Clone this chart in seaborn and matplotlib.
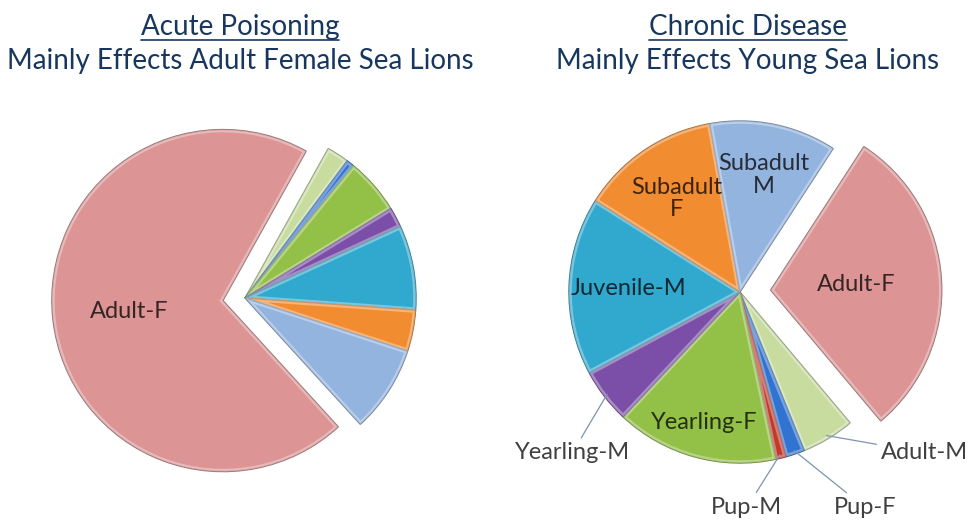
import matplotlib
matplotlib.use("Agg")
import matplotlib.pyplot as plt
import numpy as np
import seaborn as sns

sns.set_theme(style="white")
plt.rcParams['font.family'] = ['Lato', 'DejaVu Sans']

# slice order as in the original (clockwise)
categories = ["Adult-F", "Adult-M", "Pup-F", "Pup-M", "Yearling-F",
              "Yearling-M", "Juvenile-M", "Subadult-F", "Subadult-M"]
acute_pct = [69.9, 2.1, 0.75, 0.0, 5.3, 1.9, 8.0, 3.9, 8.2]
chronic_pct = [29.7, 5.0, 1.8, 1.0, 15.3, 5.2, 16.8, 13.2, 12.0]

acute_titles = ["Acute Poisoning", "Mainly Effects Adult Female Sea Lions"]
chronic_titles = ["Chronic Disease", "Mainly Effects Young Sea Lions"]

slice_colors = sns.color_palette(["#DC9494", "#C8DCA0", "#3073D0", "#C0392B", "#93C047",
                                  "#7B4FA8", "#31A8CE", "#F28C30", "#94B4E0"])
color_map = dict(zip(categories, slice_colors))

W, H = 971, 522
R_PX = 171   # pie radius in pixels
LIM = 1.35
TXT = "#17375E"

fig = plt.figure(figsize=(W / 100, H / 100), dpi=100)


def pie_axes(cx, cy):
    half = LIM * R_PX
    ax = fig.add_axes([(cx - half) / W, (H - cy - half) / H, 2 * half / W, 2 * half / H])
    ax.axis("off")
    return ax


def draw_pie(ax, values, start, explode_amt):
    explode = [explode_amt if c == "Adult-F" else 0 for c in categories]
    colors = [color_map[c] for c in categories]
    wedges, _ = ax.pie(values, colors=colors, startangle=start, counterclock=False,
                       explode=explode, radius=1.0,
                       wedgeprops=dict(linewidth=1.0))
    for w, v, c in zip(wedges, values, colors):
        w.set_edgecolor(tuple(np.array(c) * 0.72))
        if v == 0:
            w.set_visible(False)
            continue
        # soft light bevel just inside the slice edge
        hl = matplotlib.patches.Wedge(w.center, w.r, w.theta1, w.theta2,
                                      facecolor="none", edgecolor="white",
                                      alpha=0.35, linewidth=4)
        ax.add_patch(hl)
        hl.set_clip_path(w)
    ax.set_xlim(-LIM, LIM)
    ax.set_ylim(-LIM, LIM)
    ax.set_aspect("equal")
    return dict(zip(categories, wedges))


def mid_point(w, dist):
    th = np.deg2rad((w.theta1 + w.theta2) / 2)
    cx, cy = w.center
    return cx + dist * np.cos(th), cy + dist * np.sin(th)


def inner_labels(ax, wedges, spec, texts):
    for cat, d in spec.items():
        x, y = mid_point(wedges[cat], d)
        col = tuple(np.array(color_map[cat]) * 0.25)
        ax.text(x, y, texts.get(cat, cat), ha="center", va="center",
                fontsize=17, color=col, linespacing=1.1)


# left pie
ax1 = pie_axes(245, 298)
w1 = draw_pie(ax1, acute_pct, -47.6, 0.13)
inner_labels(ax1, w1, {"Adult-F": 0.55}, {})

# right pie
ax2 = pie_axes(740, 292)
w2 = draw_pie(ax2, chronic_pct, 57, 0.18)
inner_labels(ax2, w2,
             {"Adult-F": 0.5, "Yearling-F": 0.79, "Juvenile-M": 0.65,
              "Subadult-F": 0.66, "Subadult-M": 0.70},
             {"Subadult-F": "Subadult\nF", "Subadult-M": "Subadult\nM"})

outer_pos = {"Adult-M": (1.08, -0.94), "Pup-F": (0.73, -1.26),
             "Pup-M": (0.04, -1.26), "Yearling-M": (-0.98, -0.94)}
for cat, pos in outer_pos.items():
    ax2.annotate(cat, xy=mid_point(w2[cat], 0.98), xytext=pos,
                 ha="center", va="center", fontsize=17, color="#404040",
                 arrowprops=dict(arrowstyle="-", color="#7F93B0", lw=0.9,
                                 shrinkA=1, shrinkB=0))

# titles
heads = []
for (t1, t2), xc in [(acute_titles, 240), (chronic_titles, 748)]:
    heads.append(fig.text(xc / W, 1 - 27 / H, t1, ha="center", va="center",
                          fontsize=20, color=TXT))
    fig.text(xc / W, 1 - 61 / H, t2, ha="center", va="center", fontsize=20, color=TXT)

fig.canvas.draw()
rend = fig.canvas.get_renderer()
for t in heads:
    bb = t.get_window_extent(renderer=rend).transformed(fig.transFigure.inverted())
    fig.add_artist(plt.Line2D([bb.x0, bb.x1], [bb.y0, bb.y0], transform=fig.transFigure,
                              color=TXT, lw=1.2))

fig.savefig("out.png", dpi=100)
